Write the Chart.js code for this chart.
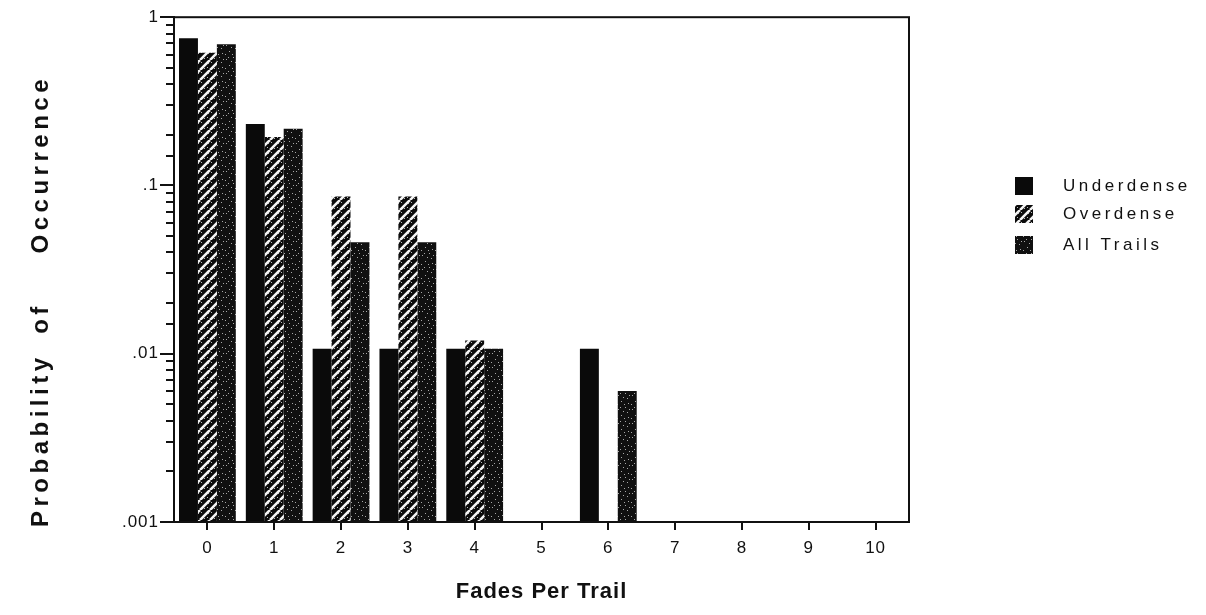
<!DOCTYPE html>
<html><head><meta charset="utf-8">
<script src="https://cdn.jsdelivr.net/npm/chart.js@4.4.1/dist/chart.umd.min.js"></script>
<style>html,body{margin:0;padding:0;background:#fff;}#wrap{width:1206px;height:615px;position:relative;}</style>
</head><body><div id="wrap"><canvas id="c" width="1206" height="615"></canvas></div>
<script>
const categories = ['0','1','2','3','4','5','6','7','8','9','10'];
const underdense = [0.75, 0.232, 0.0107, 0.0107, 0.0107, null, 0.0107, null, null, null, null];
const overdense  = [0.615, 0.194, 0.086, 0.086, 0.012, null, null, null, null, null, null];
const allTrails  = [0.69, 0.217, 0.046, 0.046, 0.0107, null, 0.006, null, null, null, null];
const seriesNames = ['Underdense', 'Overdense', 'All Trails'];
const majorValues = [0.001, 0.01, 0.1, 1];
const majorLabels = ['.001', '.01', '.1', '1'];
const xTitle = 'Fades Per Trail';
const yTitleWords = ['Probability', 'of', 'Occurrence'];

const canvas = document.getElementById('c');
const ctx = canvas.getContext('2d');
const FONT = '"Liberation Sans", Arial, Helvetica, sans-serif';

function hatchPattern() {
  const c = document.createElement('canvas'); c.width = 10; c.height = 10;
  const g = c.getContext('2d');
  g.fillStyle = '#0b0b0b'; g.fillRect(0, 0, 10, 10);
  g.strokeStyle = '#f4f4f4'; g.lineWidth = 2.6; g.beginPath();
  for (const o of [-10, 0, 10]) { g.moveTo(o, 10); g.lineTo(o + 10, 0); }
  g.stroke();
  g.fillStyle = '#bdbdbd';
  [[1,2],[7,7],[4,8],[8,3]].forEach(p => g.fillRect(p[0], p[1], 1, 1));
  return ctx.createPattern(c, 'repeat');
}
function specklePattern() {
  const c = document.createElement('canvas'); c.width = 14; c.height = 14;
  const g = c.getContext('2d');
  g.fillStyle = '#101010'; g.fillRect(0, 0, 14, 14);
  g.fillStyle = '#a8a8a8';
  [[2,3],[9,1],[5,9],[12,11],[7,5],[1,12],[11,6],[4,1],[13,3],[8,12]].forEach(p => g.fillRect(p[0], p[1], 1, 1));
  return ctx.createPattern(c, 'repeat');
}
const fills = ['#0a0a0a', hatchPattern(), specklePattern()];
const seriesData = [underdense, overdense, allTrails];

const isMajor = v => Math.abs(Math.log10(v) - Math.round(Math.log10(v))) < 1e-6;

const decor = {
  id: 'decor',
  beforeDraw(chart) { chart.ctx.letterSpacing = '1px'; },
  afterDraw(chart) {
    const c = chart.ctx, a = chart.chartArea, y = chart.scales.y;
    c.save();
    c.letterSpacing = '0px';
    c.strokeStyle = '#111'; c.lineWidth = 2;
    c.strokeRect(a.left, a.top, a.right - a.left, a.bottom - a.top);
    majorValues.forEach(v => {
      const py = Math.round(y.getPixelForValue(v));
      c.beginPath(); c.moveTo(a.left - 14, py); c.lineTo(a.left, py); c.stroke();
    });
    // y title: words along the axis, letter-spaced
    c.font = 'bold 24px ' + FONT;
    c.fillStyle = '#111';
    c.letterSpacing = '4.5px';
    c.translate(41, 0); c.rotate(-Math.PI / 2);
    c.textBaseline = 'middle';
    c.textAlign = 'left';  c.fillText(yTitleWords[0], -527, 0);
    c.textAlign = 'center'; c.fillText(yTitleWords[1], -318, 0);
    c.textAlign = 'right'; c.fillText(yTitleWords[2], -75, 0);
    c.restore();
    // legend
    c.save();
    const ys = [186, 214, 245];
    c.font = '17px ' + FONT; c.letterSpacing = '3.5px';
    c.textBaseline = 'middle'; c.textAlign = 'left';
    seriesNames.forEach((n, i) => {
      c.fillStyle = fills[i];
      c.fillRect(1015, ys[i] - 9, 18, 18);
      c.fillStyle = '#111';
      c.fillText(n, 1063, ys[i]);
    });
    c.restore();
  }
};

new Chart(ctx, {
  type: 'bar',
  data: {
    labels: categories,
    datasets: seriesData.map((d, i) => ({
      label: seriesNames[i], data: d, backgroundColor: fills[i],
      borderWidth: 0, categoryPercentage: 0.85, barPercentage: 1.0
    }))
  },
  options: {
    responsive: false, animation: false,
    layout: { padding: { left: 0, top: 15, right: 297, bottom: 0 } },
    plugins: { legend: { display: false }, tooltip: { enabled: false } },
    scales: {
      x: {
        type: 'category', offset: true,
        afterFit(s) { s.height = 93; },
        grid: { display: true, offset: false, drawOnChartArea: false, drawTicks: true, tickLength: 8, color: '#111', lineWidth: 2 },
        border: { display: true, color: '#111', width: 2 },
        ticks: { color: '#111', font: { family: FONT, size: 17 }, padding: 8, maxRotation: 0, autoSkip: false },
        title: { display: true, text: xTitle, color: '#111', font: { family: FONT, size: 22, weight: 'bold' }, padding: { top: 0, bottom: 10 } }
      },
      y: {
        type: 'logarithmic', min: 0.001, max: 1,
        afterFit(s) { s.width = 174; },
        grid: { display: true, drawOnChartArea: false, drawTicks: true, tickLength: 8, color: '#111', lineWidth: 2 },
        border: { display: true, color: '#111', width: 2 },
        ticks: {
          color: '#111', font: { family: FONT, size: 17 }, padding: 7, autoSkip: false,
          callback(v) {
            if (!isMajor(v)) return '';
            const idx = majorValues.findIndex(m => Math.abs(m - v) / m < 1e-6);
            return idx >= 0 ? majorLabels[idx] : '';
          }
        },
        title: { display: false }
      }
    }
  },
  plugins: [decor]
});
</script></body></html>
